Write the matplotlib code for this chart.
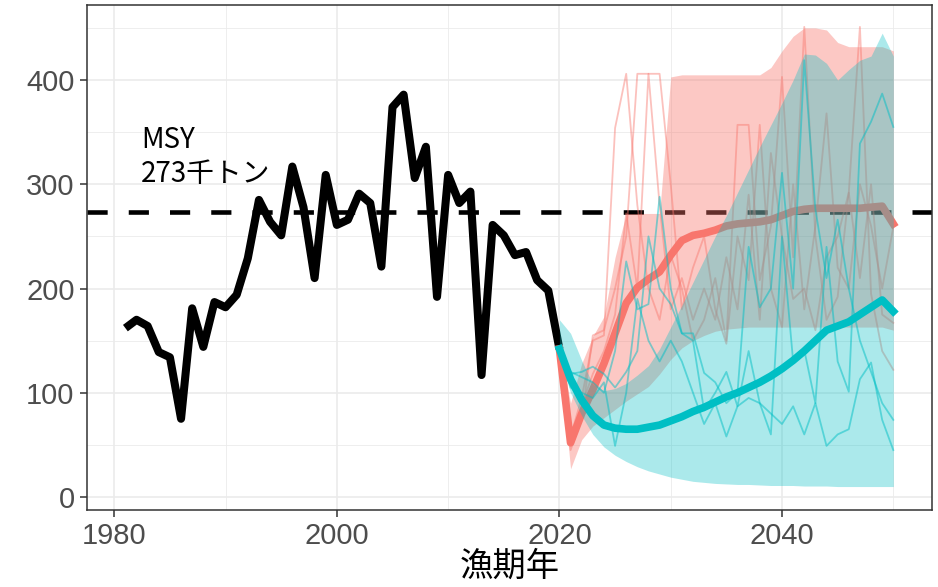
import matplotlib
matplotlib.use("Agg")
import matplotlib.pyplot as plt
import numpy as np

# ---------------- data ----------------
hist_years = list(range(1981, 2021))
hist_catch = [162, 170, 164, 139, 134, 75, 181, 144, 187, 182,
              194, 229, 285, 264, 251, 317, 278, 210, 309, 261,
              266, 291, 282, 221, 374, 386, 306, 336, 192, 309,
              282, 293, 117, 261, 251, 232, 235, 208, 198, 142]

proj_years = list(range(2020, 2051))

red_median = [142, 52, 80, 103, 128, 157, 186, 201, 209, 216,
              232, 246, 251, 253, 256, 260, 262, 263, 264, 266,
              270, 274, 276, 277, 277, 277, 277, 277, 278, 279, 262]
red_lower = [138, 27, 55, 68, 76, 84, 92, 99, 106, 118,
             132, 143, 150, 155, 159, 161, 162, 163, 163, 163,
             163, 163, 163, 163, 163, 163, 163, 163, 163, 163, 160]
red_upper = [146, 90, 128, 154, 173, 230, 272, 272, 272, 272,
             403, 405, 405, 405, 405, 405, 405, 405, 405, 412,
             428, 442, 450, 450, 448, 436, 432, 432, 432, 432, 428]

cyan_median = [142, 113, 93, 78, 69, 66, 65, 65, 67, 69,
               73, 77, 82, 86, 91, 96, 100, 105, 110, 116,
               123, 131, 140, 150, 160, 164, 168, 175, 182, 189, 178]
cyan_lower = [135, 100, 78, 60, 48, 40, 34, 29, 25, 22,
              19, 17, 15, 14, 13, 12.5, 12, 12, 11.5, 11,
              11, 11, 10.5, 10.5, 10.5, 10, 10, 10, 10, 10, 10]
cyan_upper = [170, 157, 131, 108, 102, 104, 109, 117, 126, 142,
              163, 184, 206, 228, 250, 270, 292, 314, 336, 357,
              378, 400, 425, 424, 416, 400, 410, 419, 423, 445, 423]

red_sim1 = [142, 58, 95, 150, 155, 354, 406, 280, 200, 170,
            232, 200, 150, 170, 210, 150, 357, 357, 208, 260,
            403, 230, 451, 250, 170, 192, 292, 451, 195, 140, 122]
red_sim2 = [142, 45, 75, 155, 160, 200, 250, 406, 406, 406,
            300, 180, 220, 250, 180, 147, 250, 208, 357, 200,
            163, 300, 180, 260, 368, 220, 200, 300, 260, 200, 259]
red_sim3 = [142, 50, 88, 118, 140, 175, 272, 200, 406, 280,
            180, 210, 170, 200, 170, 230, 180, 290, 170, 330,
            250, 190, 200, 160, 230, 250, 292, 210, 300, 175, 167]

cyan_sim1 = [142, 120, 115, 110, 100, 140, 226, 180, 185, 288,
             200, 157, 157, 119, 110, 90, 100, 240, 182, 200,
             311, 200, 419, 276, 210, 266, 200, 150, 120, 90, 74]
cyan_sim2 = [142, 118, 120, 125, 118, 105, 120, 140, 250, 200,
             185, 157, 150, 83, 100, 120, 87, 140, 90, 60,
             250, 130, 141, 90, 240, 130, 101, 339, 360, 387, 355]
cyan_sim3 = [142, 105, 100, 95, 110, 49, 100, 190, 150, 130,
             150, 130, 100, 70, 90, 58, 87, 95, 90, 80,
             70, 87, 60, 90, 49, 60, 65, 113, 129, 74, 45]

msy_value = 273
msy_label = "MSY"
msy_value_label = "273千トン"
x_label = "漁期年"
x_ticks = [1980, 2000, 2020, 2040]
y_ticks = [0, 100, 200, 300, 400]

# ---------------- style ----------------
RED = "#F8766D"
CYAN = "#00BFC4"
DARK = "#333333"
TICKTXT = "#4D4D4D"
GRID = "#EBEBEB"

fig = plt.figure(figsize=(9.38, 5.87), dpi=100)
ax = fig.add_axes([87 / 938, 1 - 510 / 587, (931.7 - 87) / 938, (510 - 5) / 587])

ax.set_xlim(1977.55, 2053.45)
ax.set_ylim(-12.5, 472)

ax.set_xticks(x_ticks)
ax.set_xticks([1990, 2010, 2030, 2050], minor=True)
ax.set_yticks(y_ticks)
ax.set_yticks([50, 150, 250, 350, 450], minor=True)
ax.grid(which="major", color=GRID, lw=1.2, zorder=0)
ax.grid(which="minor", color=GRID, lw=0.6, zorder=0)
ax.set_axisbelow(True)

for s in ax.spines.values():
    s.set_color(DARK)
    s.set_linewidth(1.1)

ax.tick_params(which="major", direction="out", length=5, width=1.1, color=DARK,
               labelsize=21, labelcolor=TICKTXT, pad=4)
ax.tick_params(which="minor", length=0)
for lab in ax.get_xticklabels() + ax.get_yticklabels():
    lab.set_family(["Liberation Sans", "DejaVu Sans"])

# historical catch
ax.plot(hist_years, hist_catch, color="black", lw=5.8, solid_joinstyle="round",
        solid_capstyle="butt", zorder=2)

# MSY line
ax.axhline(msy_value, color="black", lw=3.3, dashes=(4.4, 4.6), zorder=2.5)

# red scenario
ax.fill_between(proj_years, red_lower, red_upper, color=RED, alpha=0.4, lw=0, zorder=3)
for sim in (red_sim1, red_sim2, red_sim3):
    ax.plot(proj_years, sim, color=RED, alpha=0.45, lw=1.3, zorder=3.1)
ax.plot(proj_years, red_median, color=RED, lw=5.5, solid_joinstyle="round", zorder=3.2)

# cyan scenario
ax.fill_between(proj_years, cyan_lower, cyan_upper, color=CYAN, alpha=0.33, lw=0, zorder=4)
for sim in (cyan_sim1, cyan_sim2, cyan_sim3):
    ax.plot(proj_years, sim, color=CYAN, alpha=0.5, lw=1.3, zorder=4.1)
ax.plot(proj_years, cyan_median, color=CYAN, lw=5.5, solid_joinstyle="round", zorder=4.2)

# annotation
cjk = ["Noto Sans CJK JP", "DejaVu Sans"]
ax.text(1982.4, 335, msy_label, fontsize=20, family=cjk, va="baseline", ha="left",
        color="black", zorder=6)
ax.text(1982.4, 302, msy_value_label, fontsize=20, family=cjk, va="baseline", ha="left",
        color="black", zorder=6)

ax.set_xlabel(x_label, fontsize=24, family=cjk, color="black", labelpad=-1)

fig.savefig("out.png", dpi=100)
